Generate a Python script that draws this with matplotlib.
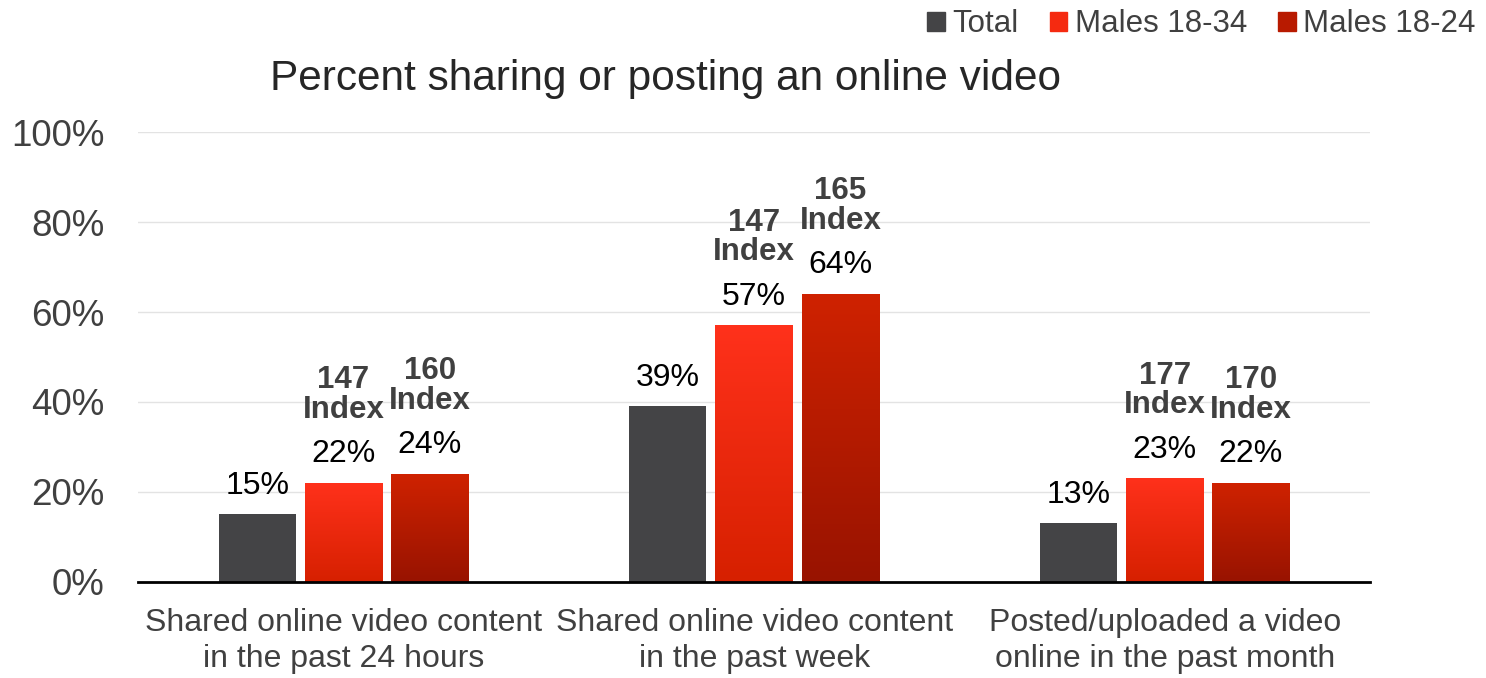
import numpy as np
import matplotlib
matplotlib.use("Agg")
import matplotlib.pyplot as plt
from matplotlib.colors import LinearSegmentedColormap
from matplotlib.patches import Patch

plt.rcParams['font.family'] = ['Liberation Sans', 'DejaVu Sans']

categories = ["Shared online video content\nin the past 24 hours",
              "Shared online video content\nin the past week",
              "Posted/uploaded a video\nonline in the past month"]
series = ["Total", "Males 18-34", "Males 18-24"]
total = [15, 39, 13]
males_18_34 = [22, 57, 23]
males_18_24 = [24, 64, 22]
index_18_34 = [147, 147, 177]
index_18_24 = [160, 165, 170]
yticks = [0, 20, 40, 60, 80, 100]

DARK = "#444446"
TEXT = "#404040"
grad_a = LinearSegmentedColormap.from_list("a", ["#d62000", "#ff311b"])
grad_b = LinearSegmentedColormap.from_list("b", ["#981300", "#cf2200"])

fig = plt.figure(figsize=(14.86, 6.78), dpi=100)
ax = fig.add_axes([0.0929, 0.1416, 0.8291, 0.6637])

x = np.arange(len(categories))
w = 0.188
step = 0.21

ax.bar(x - step, total, w, color=DARK, zorder=3)
grad = np.linspace(0, 1, 256).reshape(-1, 1)
for off, vals, cmap in [(0, males_18_34, grad_a), (step, males_18_24, grad_b)]:
    bars = ax.bar(x + off, vals, w, color="none", zorder=3)
    for r in bars:
        x0, y0 = r.get_x(), r.get_y()
        ax.imshow(grad, cmap=cmap, origin="lower", aspect="auto",
                  extent=(x0, x0 + r.get_width(), y0, y0 + r.get_height()),
                  zorder=3, interpolation="bicubic")

# value labels
for off, vals in [(-step, total), (0, males_18_34), (step, males_18_24)]:
    for xi, v in zip(x, vals):
        ax.annotate(f"{v}%", (xi + off, v), xytext=(0, 10), textcoords="offset points",
                    ha="center", va="bottom", fontsize=23, color="black", zorder=4)

# index labels
for off, vals, idx in [(0, males_18_34, index_18_34), (step, males_18_24, index_18_24)]:
    for xi, v, ix in zip(x, vals, idx):
        ax.annotate(f"{ix}\nIndex", (xi + off, v), xytext=(0, 42), textcoords="offset points",
                    ha="center", va="bottom", fontsize=22.5, fontweight="bold",
                    color=TEXT, linespacing=0.97, zorder=4)

ax.set_xlim(-0.5, 2.5)
ax.set_ylim(0, 100)
ax.set_yticks(yticks)
ax.set_yticklabels([f"{t}%" for t in yticks], fontsize=26.5, color=TEXT)
ax.set_xticks(x)
ax.set_xticklabels(categories, fontsize=23, color=TEXT, linespacing=1.25)
ax.tick_params(axis="y", length=0, pad=24)
ax.tick_params(axis="x", length=0, pad=19)
ax.yaxis.grid(True, color="#e3e3e3", linewidth=1, zorder=0)
ax.set_axisbelow(True)
for s in ["left", "right", "top"]:
    ax.spines[s].set_visible(False)
ax.spines["bottom"].set_color("black")
ax.spines["bottom"].set_linewidth(2)
ax.spines["bottom"].set_zorder(5)

fig.text(0.448, 0.883, "Percent sharing or posting an online video",
         ha="center", va="center", fontsize=30.5, color="#262626")

handles = [Patch(color=DARK), Patch(color="#f52a10"), Patch(color="#b81a00")]
fig.legend(handles, series, loc="upper right", bbox_to_anchor=(1.012, 1.028), ncol=3,
           frameon=False, fontsize=22.5, handlelength=0.55, handleheight=0.55,
           handletextpad=0.25, columnspacing=1.0, labelcolor=TEXT)

fig.savefig("out.png", dpi=100)
